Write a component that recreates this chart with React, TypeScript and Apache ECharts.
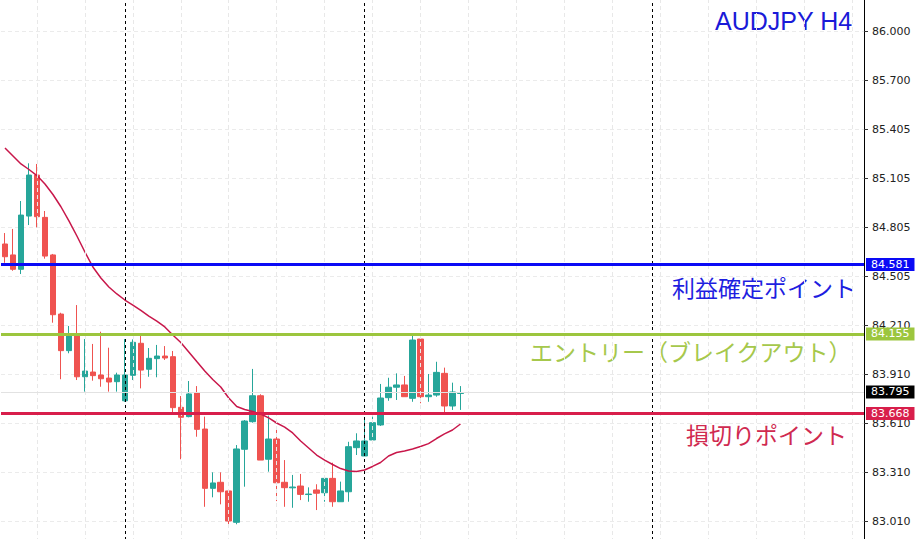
import React, { useEffect, useRef } from "react";
import * as echarts from "echarts";

// ---- data ----
const SLOT_COUNT = 108;
const categories: string[] = Array.from({ length: SLOT_COUNT }, (_, i) => `bar${i + 1}`);

// [open, close, low, high]
const candles: number[][] = [
  [84.706, 84.628, 84.591, 84.773],
  [84.639, 84.551, 84.542, 84.798],
  [84.551, 84.883, 84.522, 84.969],
  [84.877, 85.128, 84.822, 85.2],
  [85.128, 84.873, 84.808, 85.196],
  [84.869, 84.632, 84.616, 84.908],
  [84.639, 84.273, 84.224, 84.645],
  [84.277, 84.053, 83.878, 84.285],
  [84.053, 84.143, 84.037, 84.204],
  [84.155, 83.893, 83.873, 84.332],
  [83.893, 83.928, 83.802, 84.124],
  [83.922, 83.9, 83.869, 84.094],
  [83.904, 83.881, 83.832, 84.169],
  [83.885, 83.861, 83.802, 84.071],
  [83.863, 83.904, 83.802, 83.918],
  [83.746, 83.904, 83.74, 84.124],
  [83.902, 84.104, 83.873, 84.122],
  [84.098, 83.934, 83.822, 84.143],
  [83.939, 84.006, 83.893, 84.069],
  [84.004, 84.02, 83.89, 84.088],
  [84.02, 84.008, 83.996, 84.081],
  [84.016, 83.704, 83.673, 84.051],
  [83.706, 83.645, 83.388, 83.775],
  [83.649, 83.788, 83.645, 83.867],
  [83.795, 83.571, 83.526, 83.836],
  [83.573, 83.21, 83.097, 83.649],
  [83.21, 83.243, 83.155, 83.308],
  [83.247, 83.189, 83.112, 83.308],
  [83.194, 83.01, 82.979, 83.206],
  [83.002, 83.451, 82.99, 83.475],
  [83.449, 83.622, 83.22, 83.628],
  [83.618, 83.777, 83.612, 83.941],
  [83.777, 83.383, 83.383, 83.786],
  [83.388, 83.512, 83.312, 83.655],
  [83.512, 83.244, 83.132, 83.577],
  [83.247, 83.214, 83.097, 83.383],
  [83.213, 83.218, 83.091, 83.292],
  [83.224, 83.173, 83.138, 83.298],
  [83.172, 83.175, 83.128, 83.216],
  [83.2, 83.18, 83.077, 83.235],
  [83.183, 83.271, 83.128, 83.285],
  [83.271, 83.128, 83.097, 83.367],
  [83.128, 83.194, 83.128, 83.251],
  [83.189, 83.465, 83.128, 83.495],
  [83.459, 83.5, 83.414, 83.547],
  [83.408, 83.5, 83.408, 83.645],
  [83.506, 83.612, 83.495, 83.649],
  [83.598, 83.763, 83.592, 83.849],
  [83.765, 83.829, 83.746, 83.887],
  [83.829, 83.843, 83.751, 83.914],
  [83.843, 83.771, 83.771, 83.898],
  [83.761, 84.118, 83.74, 84.143],
  [84.124, 83.771, 83.731, 84.143],
  [83.771, 83.781, 83.74, 83.91],
  [83.781, 83.92, 83.771, 83.985],
  [83.914, 83.714, 83.673, 83.949],
  [83.714, 83.8, 83.69, 83.857],
  [83.791, 83.795, 83.69, 83.836],
];

const maValues: number[] = [
  85.294, 85.245, 85.196, 85.162, 85.125, 85.073, 85.009, 84.934, 84.847, 84.755,
  84.657, 84.565, 84.498, 84.443, 84.4, 84.363, 84.332, 84.299, 84.265, 84.234,
  84.198, 84.149, 84.103, 84.045, 83.986, 83.928, 83.876, 83.83, 83.763, 83.711,
  83.693, 83.68, 83.665, 83.641, 83.61, 83.585, 83.549, 83.5, 83.457, 83.414,
  83.383, 83.356, 83.331, 83.316, 83.313, 83.322, 83.344, 83.368, 83.408, 83.429,
  83.439, 83.451, 83.466, 83.484, 83.515, 83.543, 83.567, 83.604,
];

// bottom-up tick labels, at steps of TICK_STEP from TICK_BASE
const tickLabels = [
  "83.010", "83.310", "83.610", "83.910", "84.210", "84.505",
  "84.805", "85.105", "85.405", "85.700", "86.000",
];
const TICK_BASE = 83.01;
const TICK_STEP = 0.3;

const sessionBreaks = [15, 45, 81];
const gridVerticals = [4, 10, 16, 22, 28, 34, 40, 46, 52, 58, 64, 70, 76, 82, 88, 94, 100, 106];

const takeProfit = 84.581;
const entryLevel = 84.155;
const stopLoss = 83.668;
const lastPrice = 83.795;

const UP = "#26a69a";
const DOWN = "#ef5350";
const BLUE = "#0a0af5";
const GREEN = "#9cc63e";
const CRIMSON = "#d81e4b";

const axisFont = "DejaVu Sans";
const jpFont = '"Noto Sans CJK JP", sans-serif';

function levelLine(value: number, color: string, width: number, bg: string) {
  return {
    yAxis: value,
    lineStyle: { color, width, type: "solid" },
    label: {
      show: true,
      position: "end",
      distance: 2,
      formatter: value.toFixed(3),
      color: "#fff",
      backgroundColor: bg,
      padding: [1, 5, 1, 5],
      fontFamily: axisFont,
      fontSize: 11,
    },
  };
}

export default function App() {
  const ref = useRef<HTMLDivElement>(null);

  useEffect(() => {
    const chart = echarts.init(ref.current!, null, { renderer: "svg" });

    const option: any = {
      animation: false,
      backgroundColor: "#ffffff",
      grid: { left: 1, right: 58, top: -18, bottom: -31, containLabel: false, outerBoundsMode: "none" },
      xAxis: {
        type: "category",
        data: categories,
        boundaryGap: true,
        axisLine: { show: false },
        axisTick: { show: false },
        axisLabel: { show: false },
        splitLine: { show: false },
      },
      yAxis: {
        type: "value",
        position: "right",
        min: 82.71,
        max: 86.31,
        interval: TICK_STEP,
        scale: true,
        axisLine: { show: true, lineStyle: { color: "#000", width: 1 } },
        axisTick: { show: true, length: 4, lineStyle: { color: "#333" } },
        axisLabel: {
          color: "#222",
          fontFamily: axisFont,
          fontSize: 11,
          margin: 8,
          formatter: (v: number) => {
            const idx = Math.round((v - TICK_BASE) / TICK_STEP);
            return tickLabels[idx] ?? "";
          },
        },
        splitLine: { show: true, lineStyle: { color: "#ebebeb", type: [4, 3], width: 1 } },
      },
      graphic: [
        {
          type: "text",
          left: 715,
          top: 8,
          style: { text: "AUDJPY H4", font: '25px "Liberation Sans", Arial, sans-serif', fill: "#1a1ad8" },
        },
        {
          type: "text",
          left: 672,
          top: 275,
          style: { text: "利益確定ポイント", font: `23px ${jpFont}`, fill: "#1e1ee0" },
        },
        {
          type: "text",
          left: 530,
          top: 339,
          style: { text: "エントリー（ブレイクアウト）", font: `23px ${jpFont}`, fill: "#a6c84c" },
        },
        {
          type: "text",
          left: 686,
          top: 422,
          style: { text: "損切りポイント", font: `23px ${jpFont}`, fill: "#d02a50" },
        },
      ],
      series: [
        {
          name: "grid",
          type: "line",
          data: [],
          z: 1,
          silent: true,
          markLine: {
            symbol: "none",
            silent: true,
            label: { show: false },
            data: [
              ...gridVerticals.map((i) => ({
                xAxis: categories[i],
                lineStyle: { color: "#e8e8e8", type: [4, 3], width: 1 },
                label: { show: false },
              })),
              ...sessionBreaks.map((i) => ({
                xAxis: categories[i],
                lineStyle: { color: "#000", type: [3, 3], width: 1 },
                label: { show: false },
              })),
              {
                yAxis: lastPrice,
                lineStyle: { color: "#e2e2e2", type: "solid", width: 1 },
                label: {
                  show: true,
                  position: "end",
                  distance: 2,
                  formatter: lastPrice.toFixed(3),
                  color: "#fff",
                  backgroundColor: "#000",
                  padding: [1, 5, 1, 5],
                  fontFamily: axisFont,
                  fontSize: 11,
                },
              },
            ],
          },
        },
        {
          name: "AUDJPY",
          type: "candlestick",
          data: candles,
          barWidth: 6,
          z: 2,
          itemStyle: {
            color: UP,
            color0: DOWN,
            borderColor: UP,
            borderColor0: DOWN,
            borderWidth: 1,
          },
        },
        {
          name: "MA",
          type: "line",
          data: maValues,
          z: 3,
          symbol: "none",
          smooth: false,
          lineStyle: { color: "#c8174a", width: 1.5 },
          markLine: {
            symbol: "none",
            silent: true,
            precision: 3,
            data: [
              levelLine(takeProfit, BLUE, 3, BLUE),
              levelLine(entryLevel, GREEN, 3, GREEN),
              levelLine(stopLoss, CRIMSON, 3, CRIMSON),
            ],
          },
        },
      ],
    };

    chart.setOption(option);
    return () => chart.dispose();
  }, []);

  return (
    <div
      ref={ref}
      style={{ position: "fixed", left: 0, top: 0, width: 922, height: 539, background: "#fff" }}
    />
  );
}
